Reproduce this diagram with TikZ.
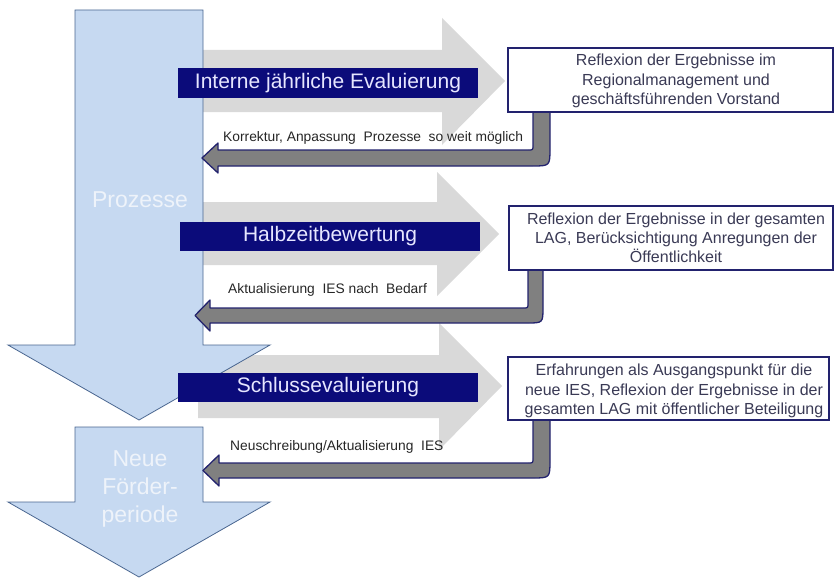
\documentclass[tikz,border=0pt]{standalone}
\usepackage{fontspec}
\setmainfont{Liberation Sans}
\definecolor{shaftblue}{HTML}{C6D9F1}
\definecolor{shaftline}{HTML}{4A6690}
\definecolor{bandgray}{HTML}{D9D9D9}
\definecolor{navyfill}{HTML}{0B0B7A}
\definecolor{navytext}{HTML}{E6E6FF}
\definecolor{boxline}{HTML}{22226E}
\definecolor{boxtext}{HTML}{3A3A55}
\definecolor{retfill}{HTML}{808080}
\definecolor{retline}{HTML}{23236E}
\definecolor{bigtextcol}{HTML}{EEF3FA}
\tikzset{
  band/.style={fill=bandgray, draw=none},
  bigarrow/.style={fill=shaftblue, draw=shaftline, line width=0.8pt, line join=miter},
  retarrow/.style={fill=retfill, draw=retline, line width=1.3pt, line join=round},
  navylabel/.style={fill=navyfill, text=navytext, minimum width=300pt, minimum height=29pt, inner sep=0pt, font=\fontsize{21}{24}\selectfont},
  infobox/.style={draw=boxline, line width=1.5pt, fill=white, inner sep=0pt},
  infotext/.style={align=center, text=boxtext, inner sep=0pt, font=\fontsize{16}{19.2}\selectfont},
  retlabel/.style={anchor=west, text=black!85, inner sep=0pt, font=\fontsize{13.8}{16}\selectfont},
  bigtext/.style={text=bigtextcol, align=center, inner sep=0pt, font=\fontsize{23}{28}\selectfont}
}
\begin{document}
\begin{tikzpicture}[x=1pt,y=-1pt]
\useasboundingbox (0,0) rectangle (835,578);
% grey process arrows
\path[band] (200,50) -- (442,50) -- (442,18) -- (505,81) -- (442,145) -- (442,112) -- (200,112) -- cycle;
\path[band] (200,202) -- (437,202) -- (437,172) -- (499,234) -- (437,296) -- (437,265) -- (200,265) -- cycle;
\path[band] (198,355) -- (439,355) -- (439,323) -- (502,386) -- (439,450) -- (439,418) -- (198,418) -- cycle;
% big blue arrows
\draw[bigarrow] (75,10) -- (203,10) -- (203,345) -- (270,345) -- (139,420) -- (8,345) -- (75,345) -- cycle;
\draw[bigarrow] (75,427) -- (203,427) -- (203,502) -- (270,502) -- (139,577) -- (8,502) -- (75,502) -- cycle;
\node[bigtext] (proz) at (140,200) {Prozesse};
\node[bigtext] (neue) at (140,489) {Neue\\Förder-\\periode};
% return arrows
\draw[retarrow] (533,110) -- (533,145) .. controls (533,150) .. (528,150) -- (218,150) -- (218,143) -- (202,158) -- (218,173) -- (218,166) -- (532,166) .. controls (550,166) .. (550,148) -- (550,110) -- cycle;
\draw[retarrow] (528,268) -- (528,303) .. controls (528,308) .. (523,308) -- (210,308) -- (210,300) -- (195,315.5) -- (210,331) -- (210,323) -- (527,323) .. controls (543,323) .. (543,307) -- (543,268) -- cycle;
\draw[retarrow] (533,418) -- (533,458) .. controls (533,463) .. (528,463) -- (219,463) -- (219,455) -- (203,470.5) -- (219,486) -- (219,478) -- (532,478) .. controls (550,478) .. (550,460) -- (550,418) -- cycle;
% navy labels
\node[navylabel] (l1) at (328,83) {Interne jährliche Evaluierung};
\node[navylabel] (l2) at (330,236) {Halbzeitbewertung};
\node[navylabel] (l3) at (328,387) {Schlussevaluierung};
% white boxes
\node[infobox, minimum width=325pt, minimum height=64pt] (b1) at (670.5,80) {};
\node[infotext] (t1) at (676,81) {Reflexion der Ergebnisse im\\Regionalmanagement und\\geschäftsführenden Vorstand};
\node[infobox, minimum width=324pt, minimum height=64pt] (b2) at (671,238) {};
\node[infotext] (t2) at (676,238) {Reflexion der Ergebnisse in der gesamten\\LAG, Berücksichtigung Anregungen der\\Öffentlichkeit};
\node[infobox, minimum width=321pt, minimum height=63pt] (b3) at (668.5,388.5) {};
\node[infotext] (t3) at (674,391) {Erfahrungen als Ausgangspunkt für die\\neue IES, Reflexion der Ergebnisse in der\\gesamten LAG mit öffentlicher Beteiligung};
% return labels
\node[retlabel] (r1) at (223,138) {Korrektur, Anpassung\ \ Prozesse\ \ so weit möglich};
\node[retlabel] (r2) at (228,290) {Aktualisierung\ \ IES nach\ \ Bedarf};
\node[retlabel] (r3) at (230,447) {Neuschreibung/Aktualisierung\ \ IES};
\end{tikzpicture}
\end{document}
